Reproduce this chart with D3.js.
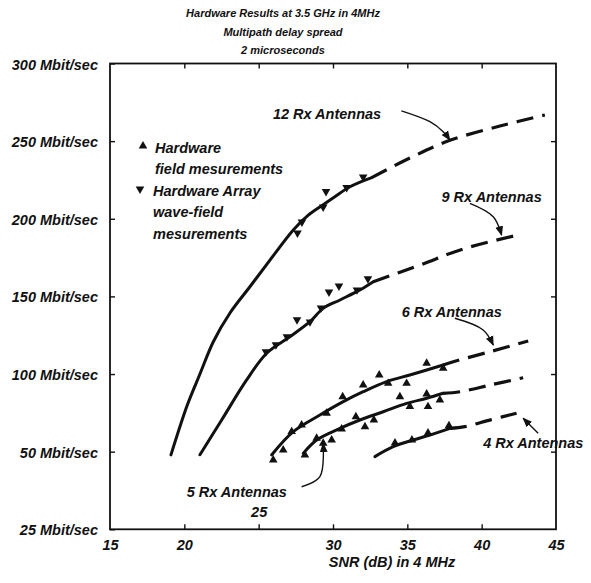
<!DOCTYPE html>
<html>
<head>
<meta charset="utf-8">
<script src="https://cdn.jsdelivr.net/npm/d3@7"></script>
<style>
html,body{margin:0;padding:0;background:#fff;}
svg{display:block;}
text{font-family:"Liberation Sans",Arial,sans-serif;font-weight:bold;font-style:italic;fill:#111;}
</style>
</head>
<body>
<svg id="chart" width="591" height="583"></svg>
<script>
// ---------- data ----------
const titleLines = ["Hardware Results at 3.5 GHz in 4MHz", "Multipath delay spread", "2 microseconds"];
const xLabel = "SNR (dB) in 4 MHz";
const xTicks = [15, 20, 25, 30, 35, 40, 45];
const xTickLabels = ["15", "20", "25", "30", "35", "40", "45"];
const yTicks = [0, 50, 100, 150, 200, 250, 300];
const yTickLabels = ["25 Mbit/sec", "50 Mbit/sec", "100 Mbit/sec", "150 Mbit/sec", "200 Mbit/sec", "250 Mbit/sec", "300 Mbit/sec"];

// curves: [SNR dB, Mbit/sec]
const rx12Solid = [[19.1,47.9],[20.2,80],[21.05,100],[21.95,120.8],[23.07,139.3],[24.41,156.2],[25.76,173.4],[27.33,192.8],[28.3,202],[29.34,209],[30.1,214],[31.14,220.6],[32.6,226.5]];
const rx12Dash  = [[32.6,226.5],[35.17,239.1],[37.87,250.5],[41.23,259.7],[44.25,266.8]];
const rx9Solid  = [[21.05,48.0],[22.51,70.4],[24.19,96.2],[25.54,113.4],[27.10,124.0],[28.45,133.7],[29.34,142.3],[30.47,147.7],[31.81,154.2],[32.71,159.5]];
const rx9Dash   = [[32.71,159.5],[35.85,170.2],[38.74,180.5],[42.44,189.5]];
const rx6Solid  = [[25.87,47.9],[27.33,62.9],[29.12,73.6],[30.69,82.2],[32.03,88.6],[33.61,95.1],[35.17,99.4],[37.41,105.8]];
const rx6Dash   = [[37.41,105.8],[38.09,107.9],[40.6,114.5],[43.13,121.3]];
const rx5Solid  = [[28.0,48.9],[28.9,57.5],[30.47,65.0],[31.81,70.4],[33.38,75.7],[34.95,81.1],[36.30,84.4],[37.41,87.6]];
const rx5Dash   = [[37.41,87.6],[38.54,88.6],[40.7,93.2],[42.79,97.6]];
const rx4Solid  = [[32.82,46.8],[34.05,53.2],[35.40,57.5],[36.52,60.7],[37.87,65.0]];
const rx4Dash   = [[37.87,65.0],[38.87,66.1],[40.6,70.5],[42.35,74.7]];

// measurements
const fieldPoints = [ // up triangles
  [25.98,44.6],[26.65,51.1],[27.22,62.9],[27.89,67.2],[29.57,74.7],[30.65,85.4],[32.03,92.9],[33.11,99.4],[33.71,94.0],[34.95,94.0],[36.30,106.9],[37.41,103.7],
  [28.11,47.9],[28.90,58.6],[29.34,55.4],[29.91,57.5],[30.58,64.6],[31.54,72.5],[32.15,66.1],[32.75,70.4],[34.5,85.4],[35.17,79.1],[36.30,87.1],[36.39,79.0],[37.19,83.3],
  [34.17,55.6],[35.31,57.5],[36.39,62.0],[37.80,66.7]
];
const arrayPoints = [ // down triangles
  [27.61,190.8],[27.91,197.9],[29.34,207.6],[29.53,217.6],[30.92,220.1],[32.03,226.9],
  [25.49,114.3],[26.16,118.8],[26.9,124.0],[27.58,134.9],[28.45,133.6],[29.19,142.6],[29.73,152.8],[30.4,156.7],[31.61,154.2],[32.35,161.3]
];

// annotations
const annLabels = ["12 Rx Antennas", "9 Rx Antennas", "6 Rx Antennas", "5 Rx Antennas", "4 Rx Antennas"];
const annTextPos = [[25.96,267.5],[37.3,214.2],[34.62,140.1],[20.16,24.2],[40.1,55.4]];
const annArrows = [
  [[34.6,269.5],[36.52,262.5],[37.41,256.1],[37.86,250.7]],
  [[39.21,209.9],[40.78,201.3],[41.34,189.5]],
  [[38.2,135.9],[40.1,128.4],[40.78,118.7]],
  [[27.89,27.4],[29.12,33.9],[29.34,55.4]],
  [[43.80,61.8],[42.79,71.5]]
];
const legendLabels = [["Hardware", "field mesurements"], ["Hardware Array", "wave-field", "mesurements"]];

// ---------- layout ----------
const FS = "14.5px";
const svg = d3.select("#chart");
const m = {left:110, top:63.5, right:556, bottom:529.3};
const x = d3.scaleLinear().domain([15,45]).range([m.left, m.right]);
const y = d3.scaleLinear().domain([0,300]).range([m.bottom, m.top]);

// title
svg.append("g").selectAll("text").data(titleLines).join("text")
  .attr("x", 283).attr("y", (d,i)=> 17 + i*18.5)
  .attr("text-anchor","middle").style("font-size","11px").text(d=>d);

// frame
svg.append("rect").attr("x", m.left).attr("y", m.top)
  .attr("width", m.right-m.left).attr("height", m.bottom-m.top)
  .attr("fill","none").attr("stroke","#111").attr("stroke-width",1.8);

// axes
const axStyle = g => { g.select(".domain").remove(); g.selectAll("line").attr("stroke","#111").attr("stroke-width",1.4); g.selectAll("text").style("font-size",FS).attr("fill","#111"); };
svg.append("g").attr("transform",`translate(${m.left},0)`)
  .call(d3.axisLeft(y).tickValues(yTicks).tickSize(-5).tickSizeOuter(0).tickPadding(12).tickFormat((d,i)=>yTickLabels[i]))
  .call(axStyle).call(g=>g.selectAll("text").attr("dy","0.38em"));
svg.append("g").attr("transform",`translate(${m.right},0)`)
  .call(d3.axisRight(y).tickValues(yTicks.slice(1,-1)).tickSize(-5).tickSizeOuter(0).tickFormat(""))
  .call(axStyle);
svg.append("g").attr("transform",`translate(0,${m.bottom})`)
  .call(d3.axisBottom(x).tickValues(xTicks).tickSize(-5).tickSizeOuter(0).tickPadding(10).tickFormat((d,i)=>xTickLabels[i]))
  .call(axStyle)
  .call(g=>g.selectAll(".tick").filter(d=>d===15||d===45).select("line").remove())
  .call(g=>g.selectAll(".tick").filter(d=>d===25).select("text").attr("y",-23).attr("dy","0.71em"));
svg.append("g").attr("transform",`translate(0,${m.top})`)
  .call(d3.axisTop(x).tickValues(xTicks.slice(1,-1)).tickSize(-5).tickSizeOuter(0).tickFormat(""))
  .call(axStyle);

// x label
svg.append("text").attr("x", 392).attr("y", 567).attr("text-anchor","middle").style("font-size",FS).text(xLabel);

// curves
const line = d3.line().x(d=>x(d[0])).y(d=>y(d[1])).curve(d3.curveCatmullRom.alpha(0.5));
const solids = [rx12Solid, rx9Solid, rx6Solid, rx5Solid, rx4Solid];
const dashes = [rx12Dash, rx9Dash, rx6Dash, rx5Dash, rx4Dash];
svg.append("g").selectAll("path").data(solids).join("path")
  .attr("d", line).attr("fill","none").attr("stroke","#111").attr("stroke-width",3).attr("stroke-linecap","round");
svg.append("g").selectAll("path").data(dashes).join("path")
  .attr("d", line).attr("fill","none").attr("stroke","#111").attr("stroke-width",3.2).attr("stroke-dasharray","17 9");

// markers
const tri = d3.symbol().type(d3.symbolTriangle).size(32);
svg.append("g").selectAll("path").data(fieldPoints).join("path")
  .attr("d", tri).attr("transform", d=>`translate(${x(d[0])},${y(d[1])})`).attr("fill","#111");
svg.append("g").selectAll("path").data(arrayPoints).join("path")
  .attr("d", tri).attr("transform", d=>`translate(${x(d[0])},${y(d[1])}) rotate(180)`).attr("fill","#111");

// legend
const lg = svg.append("g");
lg.append("path").attr("d", tri).attr("transform","translate(143,146)").attr("fill","#111");
lg.append("path").attr("d", tri).attr("transform","translate(140,189) rotate(180)").attr("fill","#111");
legendLabels[0].forEach((t,i)=> lg.append("text").attr("x",155).attr("y",152.5 + i*21.5).style("font-size",FS).text(t));
legendLabels[1].forEach((t,i)=> lg.append("text").attr("x",153).attr("y",195.5 + i*21.5).style("font-size",FS).text(t));

// annotations
svg.append("defs").append("marker").attr("id","ah").attr("viewBox","0 0 10 10").attr("refX",9).attr("refY",5)
  .attr("markerWidth",7).attr("markerHeight",7).attr("orient","auto-start-reverse")
  .append("path").attr("d","M0,1 L10,5 L0,9 Z").attr("fill","#111");
const aline = d3.line().x(d=>x(d[0])).y(d=>y(d[1])).curve(d3.curveCatmullRom.alpha(0.5));
svg.append("g").selectAll("path").data(annArrows).join("path")
  .attr("d", aline).attr("fill","none").attr("stroke","#111").attr("stroke-width",1.4).attr("marker-end","url(#ah)");
svg.append("g").selectAll("text").data(annLabels).join("text")
  .attr("x",(d,i)=>x(annTextPos[i][0])).attr("y",(d,i)=>y(annTextPos[i][1])).attr("dy","0.35em")
  .style("font-size",FS).text(d=>d);
</script>
</body>
</html>
